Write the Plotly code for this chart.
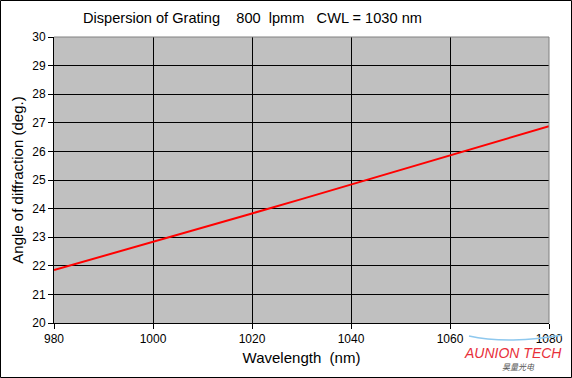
import plotly.graph_objects as go

wavelength_nm = [980, 990, 1000, 1010, 1020, 1030, 1040, 1050, 1060, 1070, 1080]
angle_deg = [21.85, 22.34, 22.84, 23.33, 23.83, 24.33, 24.84, 25.35, 25.86, 26.37, 26.88]
x_ticks = [980, 1000, 1020, 1040, 1060, 1080]
y_ticks = list(range(20, 31))

W, H = 572, 378
L, R, T, B = 54, 23, 37, 55
PW, PH = W - L - R, H - T - B

def px(x):
    return (x - L) / PW

def py(y):
    return (H - B - y) / PH

fig = go.Figure()
fig.add_trace(go.Scatter(x=wavelength_nm, y=angle_deg, mode="lines",
                         line=dict(color="#ff0000", width=2), showlegend=False))

font = "Arial, 'Liberation Sans', sans-serif"
fig.update_layout(
    width=W, height=H,
    margin=dict(l=L, r=R, t=T, b=B, autoexpand=False),
    paper_bgcolor="white",
    plot_bgcolor="#c0c0c0",
    font=dict(family=font, color="#000000", size=12),
    xaxis=dict(range=[980, 1080], tickvals=x_ticks, showgrid=True, gridcolor="#000000",
               gridwidth=1, showline=True, linecolor="#000000", linewidth=1,
               ticks="outside", ticklen=5, tickcolor="#000000", zeroline=False,
               automargin=False,
               tickfont=dict(size=12, color="#000000"),
               title=dict(text="Wavelength\u00a0\u00a0(nm)", font=dict(size=15), standoff=7)),
    yaxis=dict(range=[20, 30], tickvals=y_ticks, showgrid=True, gridcolor="#000000",
               gridwidth=1, showline=True, linecolor="#000000", linewidth=1,
               ticks="outside", ticklen=5, tickcolor="#000000", zeroline=False,
               automargin=False,
               tickfont=dict(size=12, color="#000000"),
               title=dict(text="Angle of diffraction (deg.)", font=dict(size=15), standoff=4)),
    shapes=[
        dict(type="line", xref="paper", yref="paper", x0=0, x1=1, y0=1, y1=1,
             line=dict(color="#808080", width=1), layer="above"),
        dict(type="line", xref="paper", yref="paper", x0=1, x1=1, y0=0, y1=1,
             line=dict(color="#808080", width=1), layer="above"),
        dict(type="rect", xref="paper", yref="paper",
             x0=px(0.5), x1=px(W - 0.5), y0=py(H - 0.5), y1=py(0.5),
             line=dict(color="#000000", width=1), layer="above"),
        dict(type="path", xref="paper", yref="paper",
             path=f"M {px(469)},{py(336)} C {px(495)},{py(342)} {px(530)},{py(341)} {px(562)},{py(335)}",
             line=dict(color="#8ec8ee", width=1.5), layer="above"),
    ],
    annotations=[
        dict(text="Dispersion of Grating\u00a0\u00a0\u00a0\u00a0800\u00a0\u00a0lpmm\u00a0\u00a0\u00a0CWL = 1030 nm",
             xref="paper", yref="paper", x=px(252), y=py(18), xanchor="center", yanchor="middle",
             showarrow=False, font=dict(size=14.6, color="#000000")),
        dict(text="<i>AUNION TECH</i>", xref="paper", yref="paper", x=px(513), y=py(353),
             xanchor="center", yanchor="middle", showarrow=False,
             font=dict(size=14, color="#e8303a")),
        dict(text="<i>昊量光电</i>", xref="paper", yref="paper", x=px(518), y=py(367),
             xanchor="center", yanchor="middle", showarrow=False,
             font=dict(size=8, color="#555555", family="Noto Sans CJK SC")),
    ],
)

fig.write_html("out.html", config={"displayModeBar": False},
               post_script="document.body.style.margin='0';document.body.style.overflow='hidden';")
